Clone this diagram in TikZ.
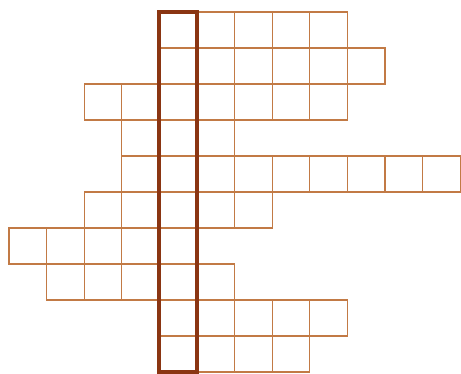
\documentclass[tikz,border=0pt]{standalone}
\definecolor{cellc}{HTML}{C27A45}
\definecolor{boldc}{HTML}{8A3512}
\tikzset{
  cell/.style={draw=cellc, line width=1.3pt},
  boldcol/.style={draw=boldc, line width=4pt}
}
\begin{document}
\begin{tikzpicture}[x=1pt,y=-1pt]
\useasboundingbox (0,0) rectangle (461,373);
\def\cw{37.6}
\def\rh{36}
\foreach \r/\a/\b in {0/4/8,1/4/9,2/2/8,3/3/5,4/3/11,5/2/6,6/0/4,7/1/5,8/4/8,9/4/7}{
  \foreach \c in {\a,...,\b}{
    \draw[cell] ({9+\c*\cw},{12+\r*\rh}) rectangle ++(\cw,\rh);
  }
}
\draw[boldcol] ({9+4*\cw},12) rectangle ({9+5*\cw},372);
\end{tikzpicture}
\end{document}
